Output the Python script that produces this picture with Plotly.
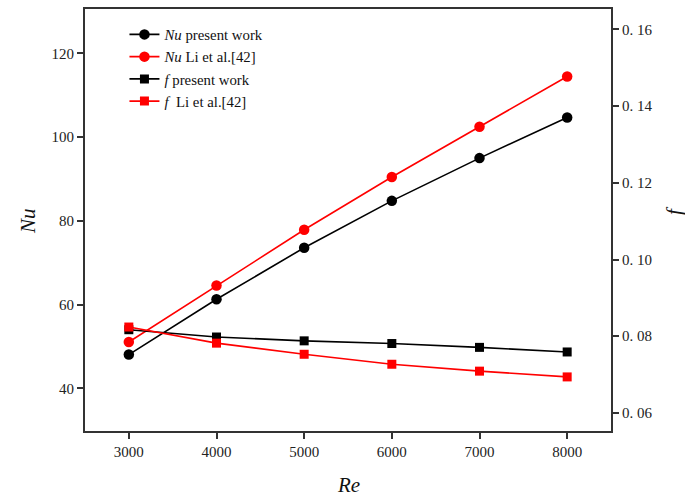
import plotly.graph_objects as go

Re = [3000, 4000, 5000, 6000, 7000, 8000]
nu_present = [48.1, 61.3, 73.6, 84.8, 95.0, 104.7]
nu_li = [51.1, 64.6, 77.9, 90.5, 102.5, 114.5]
f_present = [0.0817, 0.0798, 0.0788, 0.0781, 0.0771, 0.0759]
f_li = [0.0824, 0.0782, 0.0753, 0.0727, 0.0709, 0.0694]

x_ticks = [3000, 4000, 5000, 6000, 7000, 8000]
nu_ticks = [40, 60, 80, 100, 120]
f_ticks = [0.06, 0.08, 0.10, 0.12, 0.14, 0.16]
f_ticktext = ["0. 06", "0. 08", "0. 10", "0. 12", "0. 14", "0. 16"]

SERIF = "Liberation Serif, Times New Roman, serif"
AX = "#333333"

fig = go.Figure()
fig.add_trace(go.Scatter(x=Re, y=nu_present, mode="lines+markers",
                         name="<i>Nu</i> present work",
                         line=dict(color="black", width=1.6),
                         marker=dict(symbol="circle", size=10.5, color="black")))
fig.add_trace(go.Scatter(x=Re, y=nu_li, mode="lines+markers",
                         name="<i>Nu</i> Li et al.[42]",
                         line=dict(color="#ff0000", width=1.6),
                         marker=dict(symbol="circle", size=10.5, color="#ff0000")))
fig.add_trace(go.Scatter(x=Re, y=f_present, mode="lines+markers", yaxis="y2",
                         name="<i>f</i> present work",
                         line=dict(color="black", width=1.6),
                         marker=dict(symbol="square", size=9, color="black")))
fig.add_trace(go.Scatter(x=Re, y=f_li, mode="lines+markers", yaxis="y2",
                         name="<i>f</i>  Li et al.[42]",
                         line=dict(color="#ff0000", width=1.6),
                         marker=dict(symbol="square", size=9, color="#ff0000")))

fig.update_layout(
    width=685, height=498,
    margin=dict(l=85, r=74, t=7, b=67),
    paper_bgcolor="white", plot_bgcolor="white",
    font=dict(family=SERIF, size=15, color="#222222"),
    showlegend=True,
    legend=dict(x=0.075, y=0.978, xanchor="left", yanchor="top",
                bgcolor="rgba(0,0,0,0)", font=dict(family=SERIF, size=14.8, color="#111111"),
                tracegroupgap=0, itemwidth=30),
    xaxis=dict(range=[2500, 8500], tickvals=x_ticks, ticktext=[str(v) for v in x_ticks],
               showgrid=False, zeroline=False, showline=True, linecolor=AX, linewidth=2,
               mirror=True, ticks="outside", ticklen=6, tickwidth=1.5, tickcolor=AX,
               tickfont=dict(family=SERIF, size=15, color="#222222")),
    yaxis=dict(range=[29.85, 130.6], tickvals=nu_ticks, ticktext=[str(v) for v in nu_ticks],
               showgrid=False, zeroline=False, showline=True, linecolor=AX, linewidth=2,
               ticks="outside", ticklen=6, tickwidth=1.5, tickcolor=AX,
               tickfont=dict(family=SERIF, size=15, color="#222222")),
    yaxis2=dict(range=[0.0553, 0.1653], overlaying="y", side="right",
                tickvals=f_ticks, ticktext=f_ticktext,
                showgrid=False, zeroline=False, showline=True, linecolor=AX, linewidth=2,
                ticks="outside", ticklen=6, tickwidth=1.5, tickcolor=AX,
                tickfont=dict(family=SERIF, size=15, color="#222222")),
    annotations=[
        dict(text="<i>Re</i>", x=348, y=485, xref="paper", yref="paper", showarrow=False,
             font=dict(family=SERIF, size=21, color="#111111")),
        dict(text="<i>Nu</i>", x=28, y=220, showarrow=False, textangle=-90,
             font=dict(family=SERIF, size=21, color="#111111")),
        dict(text="<i>f</i>", x=674, y=210, showarrow=False, textangle=-90,
             font=dict(family=SERIF, size=21, color="#111111")),
    ],
)

# convert pixel-based annotation positions to paper coords
pl, pr, pt, pb = 85, 611, 7, 431
anns = []
for a in fig.layout.annotations:
    px, py = a.x, a.y
    a.x = (px - pl) / (pr - pl)
    a.y = 1 - (py - pt) / (pb - pt)
    a.xref = "paper"
    a.yref = "paper"
    a.xanchor = "center"
    a.yanchor = "middle"
    anns.append(a)
fig.layout.annotations = anns

fig.write_html("out.html")
